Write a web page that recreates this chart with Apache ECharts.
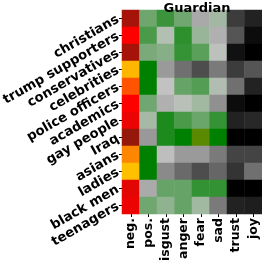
<!DOCTYPE html>
<html><head><meta charset="utf-8">
<script src="https://cdn.jsdelivr.net/npm/echarts@6/dist/echarts.min.js"></script>
<style>html,body{margin:0;padding:0;background:#fff}#c{width:262px;height:262px}</style>
</head><body><div id="c"></div>
<script>
const title = "Guardian";
const rows = ["christians","trump supporters","conservatives","celebrities","police officers","academics","gay people","Iraq","asians","ladies","black men","teenagers"];
const cols = ["neg.","pos.","disgust","anger","fear","sad","trust","joy"];
// neg. column (0 = dark red, 1 = yellow)
const neg = [0.08,0.33,0.08,0.95,0.55,0.33,0.28,0.03,0.70,1.00,0.25,0.28];
// emotion columns (0 dark grey, 1 light grey, 2 green, 3 olive)
const pos     = [1.44,1.62,1.38,2.00,2.00,1.43,1.16,0.64,2.00,2.00,0.78,1.43];
const disgust = [1.70,1.08,1.31,0.65,0.98,0.83,1.85,1.85,0.95,0.51,1.48,1.27];
const anger   = [1.43,1.77,1.73,0.29,1.48,1.06,1.62,2.00,0.65,0.24,1.48,1.48];
const fear    = [0.77,1.22,1.54,0.00,1.57,1.18,1.46,3.00,0.65,0.00,1.74,1.18];
const sad     = [1.17,0.83,1.04,0.38,1.10,0.56,1.73,2.00,0.38,0.21,1.74,0.38];
// trust / joy (0 black, 1 grey)
const trust = [0.54,0.76,0.15,0.54,1.00,0.11,0.30,0.00,0.61,0.46,0.00,0.30];
const joy   = [0.30,0.11,0.00,0.76,0.30,0.00,0.36,0.00,0.61,1.00,0.00,0.27];

const negData = neg.map((v,i)=>[0,i,v]);
const emoData = [];
[pos,disgust,anger,fear,sad].forEach((arr,c)=>arr.forEach((v,i)=>emoData.push([c+1,i,v])));
const tjData = [];
[trust,joy].forEach((arr,c)=>arr.forEach((v,i)=>tjData.push([c+6,i,v])));

const font = "DejaVu Sans";
const chart = echarts.init(document.getElementById('c'), null, {renderer:'canvas'});
chart.setOption({
  animation:false,
  title:{text:title,left:192,textAlign:'center',top:-3,textStyle:{fontFamily:font,fontWeight:'bold',fontSize:13,color:'#000'}},
  grid:{left:122,right:0,top:10,bottom:48,containLabel:false,outerBoundsMode:'none'},
  xAxis:{type:'category',data:cols,position:'bottom',
    axisLine:{show:false},axisTick:{show:true,alignWithLabel:true,length:3,lineStyle:{color:'#000'}},
    axisLabel:{interval:0,rotate:90,margin:4,fontFamily:font,fontWeight:'bold',fontSize:12.5,color:'#000'},splitLine:{show:false}},
  yAxis:{type:'category',data:rows,inverse:true,
    axisLine:{show:false},axisTick:{show:true,alignWithLabel:true,length:3,lineStyle:{color:'#000'}},
    axisLabel:{interval:0,rotate:30,margin:4,fontFamily:font,fontWeight:'bold',fontSize:13.2,color:'#000'},splitLine:{show:false}},
  visualMap:[
    {show:false,type:'continuous',seriesIndex:0,min:0,max:1,dimension:2,inRange:{color:['#8a1a0c','#ff0000','#ff8000','#ffc000']}},
    {show:false,type:'continuous',seriesIndex:1,min:0,max:3,dimension:2,inRange:{color:['#4d4d4d','#c4c4c4','#008000','#5a8a00']}},
    {show:false,type:'continuous',seriesIndex:2,min:0,max:1,dimension:2,inRange:{color:['#000000','#707070']}}
  ],
  series:[
    {type:'heatmap',data:negData,itemStyle:{borderWidth:0}},
    {type:'heatmap',data:emoData,itemStyle:{borderWidth:0}},
    {type:'heatmap',data:tjData,itemStyle:{borderWidth:0}}
  ]
});
</script></body></html>
